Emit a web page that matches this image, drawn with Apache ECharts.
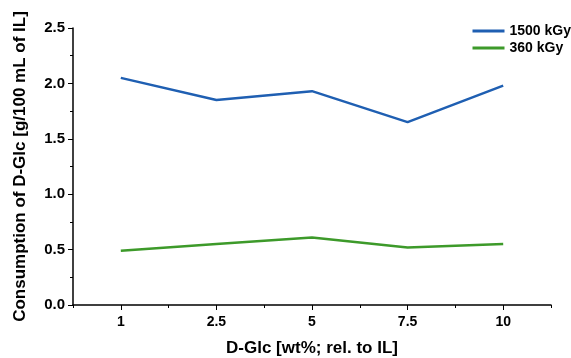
<!DOCTYPE html>
<html>
<head>
<meta charset="utf-8">
<script src="https://cdn.jsdelivr.net/npm/echarts@6/dist/echarts.min.js"></script>
<style>
  html, body { margin: 0; padding: 0; background: #fff; }
  #chart { width: 571px; height: 358px; }
</style>
</head>
<body>
<div id="chart"></div>
<script>
// D-Glc loading (wt%, relative to IL)
const categories = ['1', '2.5', '5', '7.5', '10'];
// Consumption of D-Glc [g/100 mL of IL] at each dose
const dose1500 = [2.05, 1.85, 1.93, 1.65, 1.98];
const dose360 = [0.49, 0.55, 0.61, 0.52, 0.55];
const seriesNames = ['1500 kGy', '360 kGy'];

const FONT = 'Liberation Sans, Arial, sans-serif';
const chart = echarts.init(document.getElementById('chart'), null, { renderer: 'canvas' });

chart.setOption({
  animation: false,
  backgroundColor: '#ffffff',
  grid: { left: 73, right: 20, top: 28, bottom: 53, containLabel: false, outerBoundsMode: 'none' },
  legend: {
    right: 0, top: 24, orient: 'vertical', itemGap: 3, padding: 0,
    itemWidth: 32, itemHeight: 3, itemTextGap: 5,
    icon: 'rect',
    textStyle: { fontFamily: FONT, fontWeight: 'bold', fontSize: 14, color: '#000' },
    data: seriesNames
  },
  xAxis: [
    {
      type: 'category',
      data: categories,
      boundaryGap: true,
      name: 'D-Glc [wt%; rel. to IL]',
      nameLocation: 'middle',
      nameGap: 35,
      nameTextStyle: { fontFamily: FONT, fontWeight: 'bold', fontSize: 17, color: '#000' },
      axisLine: { lineStyle: { color: '#000', width: 1.5 } },
      axisTick: { show: true, alignWithLabel: true, length: 5, lineStyle: { color: '#000', width: 1 } },
      axisLabel: { fontFamily: FONT, fontWeight: 'bold', fontSize: 14, color: '#000', margin: 10 },
      splitLine: { show: false }
    },
    {
      // secondary ticks at the category boundaries
      type: 'category',
      data: categories,
      position: 'bottom',
      boundaryGap: true,
      axisLine: { show: false },
      axisTick: { show: true, alignWithLabel: false, length: 3, lineStyle: { color: '#000', width: 1 } },
      axisLabel: { show: false },
      splitLine: { show: false }
    }
  ],
  yAxis: {
    type: 'value',
    min: 0, max: 2.5, interval: 0.5,
    name: 'Consumption of D-Glc [g/100 mL of IL]',
    nameLocation: 'middle',
    nameGap: 44,
    nameTextStyle: { fontFamily: FONT, fontWeight: 'bold', fontSize: 17, color: '#000' },
    axisLine: { show: true, lineStyle: { color: '#000', width: 1.5 } },
    axisTick: { show: true, length: 5, lineStyle: { color: '#000', width: 1 } },
    minorTick: { show: true, splitNumber: 2, length: 3, lineStyle: { color: '#000', width: 1 } },
    axisLabel: {
      fontFamily: FONT, fontWeight: 'bold', fontSize: 15, color: '#000', margin: 8,
      formatter: v => v.toFixed(1)
    },
    splitLine: { show: false }
  },
  series: [
    {
      name: seriesNames[0], type: 'line', data: dose1500, xAxisIndex: 0,
      symbol: 'none', color: '#1f5fb2',
      lineStyle: { width: 2.5, color: '#1f5fb2' }
    },
    {
      name: seriesNames[1], type: 'line', data: dose360, xAxisIndex: 0,
      symbol: 'none', color: '#3d9a2a',
      lineStyle: { width: 2.5, color: '#3d9a2a' }
    }
  ]
});
</script>
</body>
</html>
